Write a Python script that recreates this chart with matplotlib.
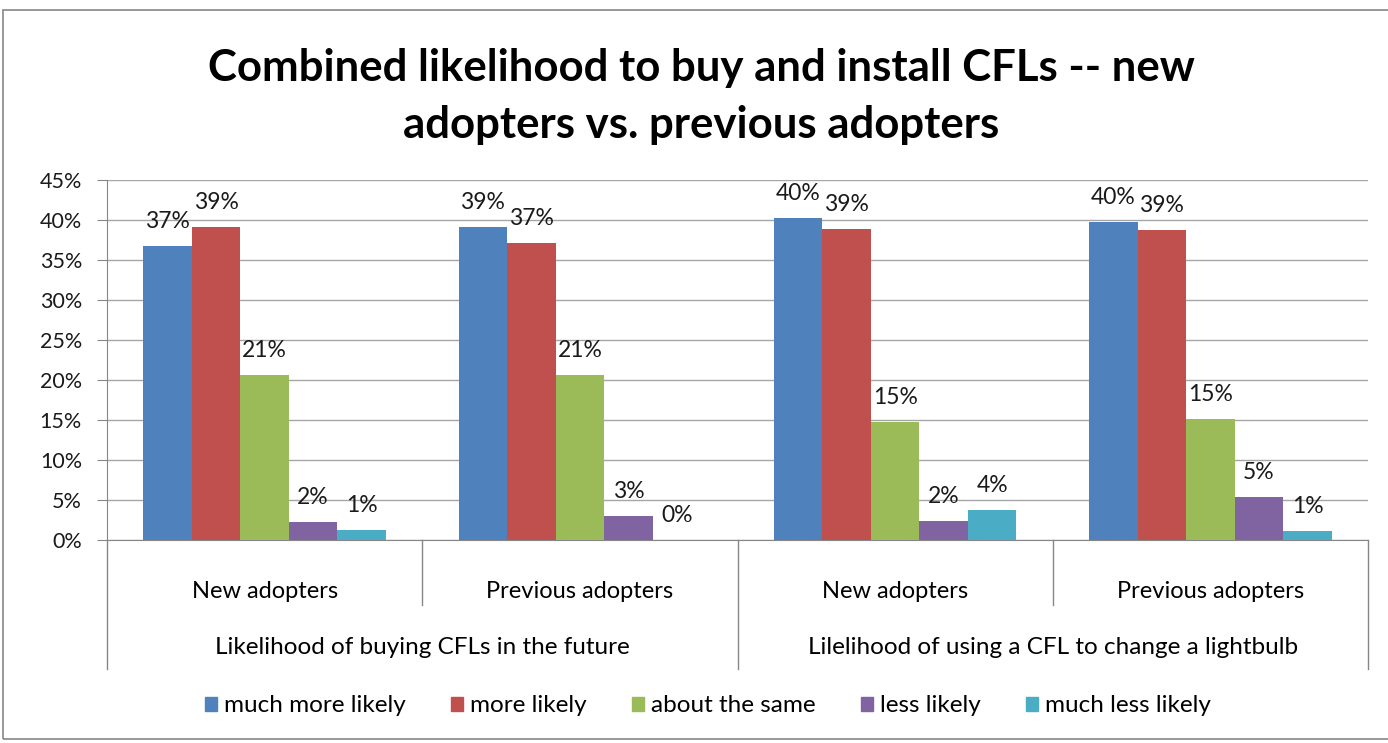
import matplotlib.pyplot as plt
import numpy as np
from matplotlib.patches import Patch, Rectangle
from matplotlib.ticker import FuncFormatter

plt.rcParams['font.family'] = ['Lato', 'DejaVu Sans']

# survey answers, in percent, one list per answer
series = ["much more likely", "more likely", "about the same", "less likely", "much less likely"]
colors = ["#4F81BD", "#C0504D", "#9BBB59", "#8064A2", "#4BACC6"]
subgroups = ["New adopters", "Previous adopters", "New adopters", "Previous adopters"]
groups = ["Likelihood of buying CFLs in the future",
          "Lilelihood of using a CFL to change a lightbulb"]

much_more = [36.7, 39.1, 40.3, 39.7]
more = [39.1, 37.1, 38.9, 38.7]
same = [20.6, 20.6, 14.7, 15.1]
less = [2.3, 3.0, 2.4, 5.4]
much_less = [1.2, 0.0, 3.7, 1.1]
values = [much_more, more, same, less, much_less]

W, H = 1388, 743
fig = plt.figure(figsize=(W / 100, H / 100), dpi=100)
ax = fig.add_axes([107 / W, 1 - 540 / H, (1368 - 107) / W, 360 / H])

x = np.arange(len(subgroups))
bw = 0.154
for i, (name, vals, col) in enumerate(zip(series, values, colors)):
    xs = x + (i - 2) * bw
    ax.bar(xs, vals, width=bw, color=col, label=name, zorder=3)
    for xi, v in zip(xs, vals):
        ax.annotate(f"{v:.0f}%", (xi, v), textcoords="offset points", xytext=(0, 13),
                    ha="center", va="baseline", fontsize=16.5, color="#1a1a1a")

ax.set_xlim(-0.5, 3.5)
ax.set_ylim(0, 45)
ax.set_yticks(np.arange(0, 46, 5))
ax.yaxis.set_major_formatter(FuncFormatter(lambda v, p: f"{v:.0f}%"))
ax.tick_params(axis="y", labelsize=15.5, length=7, color="#868686", pad=11, labelcolor="#1a1a1a")
ax.set_xticks([])
ax.grid(axis="y", color="#A6A6A6", lw=1, zorder=0)
for s in ["top", "right"]:
    ax.spines[s].set_visible(False)
for s in ["left", "bottom"]:
    ax.spines[s].set_color("#868686")

# category separators below the axis
trans = ax.get_xaxis_transform()
for xv in [-0.5, 1.5, 3.5]:
    ax.plot([xv, xv], [0, -0.357], transform=trans, color="#868686", lw=1, clip_on=False)
for xv in [0.5, 2.5]:
    ax.plot([xv, xv], [0, -0.18], transform=trans, color="#868686", lw=1, clip_on=False)

for xi, lab in zip(x, subgroups):
    ax.text(xi, -(591 - 540) / 360, lab, transform=trans, ha="center", va="center", fontsize=17)
for xi, lab in zip([0.5, 2.5], groups):
    ax.text(xi, -(648 - 540) / 360, lab, transform=trans, ha="center", va="center", fontsize=17.5)

fig.text(701 / W, 1 - 68 / H, "Combined likelihood to buy and install CFLs -- new",
         ha="center", va="center", fontsize=31.5, fontweight="bold")
fig.text(701 / W, 1 - 125 / H, "adopters vs. previous adopters",
         ha="center", va="center", fontsize=31.5, fontweight="bold")

handles = [Patch(color=c) for c in colors]
fig.legend(handles, series, loc="center", bbox_to_anchor=(708 / W, 1 - 706 / H), ncol=5,
           frameon=False, fontsize=17.5, handlelength=0.5, handleheight=0.5,
           handletextpad=0.3, columnspacing=1.85)

fig.patches.append(Rectangle((3 / W, 1 - 739 / H), 1.1, (739 - 10) / H, transform=fig.transFigure,
                             fill=False, edgecolor="#868686", lw=1.2))

fig.savefig("out.png", dpi=100)
